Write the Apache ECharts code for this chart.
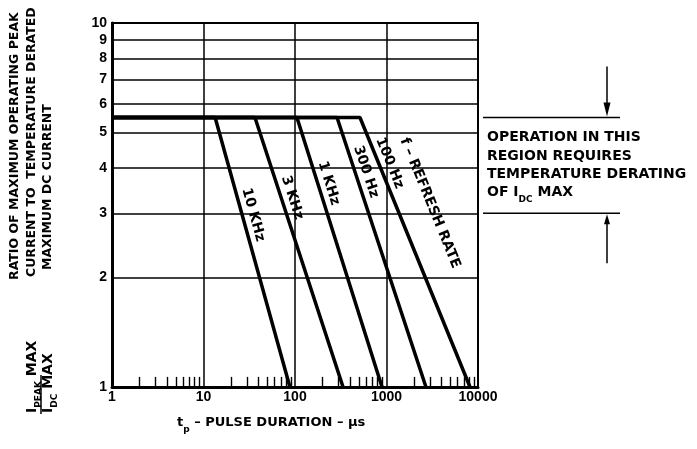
<!DOCTYPE html>
<html>
<head>
<meta charset="utf-8">
<script src="https://cdn.jsdelivr.net/npm/echarts@6/dist/echarts.min.js"></script>
<style>
body{margin:0;background:#fff;}
#chart{width:697px;height:449px;}
</style>
</head>
<body>
<div id="chart"></div>
<script>
var xLabels = [1, 10, 100, 1000, 10000];
var yLabels = [1, 2, 3, 4, 5, 6, 7, 8, 9, 10];
var minorX = [2, 3, 4, 5, 6, 7, 8, 9, 20, 30, 40, 50, 60, 70, 80, 90,
    200, 300, 400, 500, 600, 700, 800, 900, 2000, 3000, 4000, 5000, 6000, 7000, 8000, 9000];

var peakRatio = 5.5;
var rateNames = ['10 KHz', '3 KHz', '1 KHz', '300 Hz', '100 Hz'];
var kneePulse = [13.4, 36.5, 105, 288, 513];
var endPulse = [88, 335, 893, 2700, 8180];
var labelRatio = [2.97, 3.31, 3.63, 3.9, 4.12];
var refreshRatio = 3.2;

// region noted on the right: between these two ratios
var regionTop = 5.5;
var regionBottom = 3;

var numFont = 'Liberation Sans';
var txtFont = 'DejaVu Sans';

var myChart = echarts.init(document.getElementById('chart'));

var series = [];
for (var i = 0; i < rateNames.length; i++) {
    series.push({
        name: rateNames[i],
        type: 'line',
        symbol: 'none',
        silent: true,
        z: 5,
        lineStyle: { color: '#000', width: 3.5 },
        data: [[1, peakRatio], [kneePulse[i], peakRatio], [endPulse[i], 1]]
    });
}

// horizontal grid lines with their labels
series.push({
    type: 'line',
    symbol: 'none',
    silent: true,
    data: [],
    markLine: {
        symbol: ['none', 'none'],
        silent: true,
        animation: false,
        lineStyle: { color: '#000', width: 1.6, type: 'solid' },
        label: {
            position: 'start',
            distance: 5,
            formatter: function (p) { return p.value; },
            color: '#000',
            fontWeight: 'bold',
            fontSize: 14,
            fontFamily: numFont
        },
        data: yLabels.map(function (v) { return { yAxis: v }; })
    }
});

// little ticks on the bottom axis
series.push({
    type: 'line',
    symbol: 'none',
    silent: true,
    data: [],
    markLine: {
        symbol: ['none', 'none'],
        silent: true,
        animation: false,
        lineStyle: { color: '#000', width: 1.4, type: 'solid' },
        label: { show: false },
        data: minorX.map(function (v) { return [{ coord: [v, 1] }, { coord: [v, 1.066] }]; })
    }
});

var option = {
    animation: false,
    backgroundColor: '#fff',
    grid: { left: 112, right: 219, top: 23, bottom: 62, show: true, borderColor: '#000', borderWidth: 2 },
    xAxis: {
        type: 'log',
        logBase: 10,
        min: xLabels[0],
        max: xLabels[xLabels.length - 1],
        axisLine: { lineStyle: { color: '#000', width: 3 } },
        axisTick: { show: false },
        axisLabel: {
            color: '#000', fontWeight: 'bold', fontSize: 14, fontFamily: numFont, margin: 3,
            formatter: function (v) { return String(Math.round(v)); }
        },
        splitLine: { show: true, lineStyle: { color: '#000', width: 1.5 } }
    },
    yAxis: {
        type: 'log',
        logBase: 10,
        min: yLabels[0],
        max: yLabels[yLabels.length - 1],
        axisLine: { show: true, lineStyle: { color: '#000', width: 3 } },
        axisTick: { show: false },
        axisLabel: { show: false },
        splitLine: { show: false }
    },
    series: series
};

myChart.setOption(option);

function px(x, y) {
    return myChart.convertToPixel({ gridIndex: 0 }, [x, y]);
}

var g = [];
var subStyle = { fontSize: 9, lineHeight: 22, verticalAlign: 'bottom', fontWeight: 'bold', fontFamily: txtFont };

for (var i = 0; i < rateNames.length; i++) {
    var a = px(kneePulse[i], peakRatio);
    var b = px(endPulse[i], 1);
    var y = px(1, labelRatio[i])[1];
    var t = (y - a[1]) / (b[1] - a[1]);
    var ang = Math.atan2(b[1] - a[1], b[0] - a[0]);
    g.push({
        type: 'text',
        x: a[0] + t * (b[0] - a[0]) + 11,
        y: y,
        rotation: -ang,
        silent: true,
        style: { text: rateNames[i], fill: '#000', fontSize: 14, fontWeight: 'bold', fontFamily: txtFont, align: 'center', verticalAlign: 'middle' }
    });
    if (i == rateNames.length - 1) {
        var y2 = px(1, refreshRatio)[1];
        var t2 = (y2 - a[1]) / (b[1] - a[1]);
        g.push({
            type: 'text',
            x: a[0] + t2 * (b[0] - a[0]) + 35,
            y: y2,
            rotation: -ang,
            silent: true,
            style: { text: 'f \u2013 REFRESH RATE', fill: '#000', fontSize: 14, fontWeight: 'bold', fontFamily: txtFont, align: 'center', verticalAlign: 'middle' }
        });
    }
}

// right hand note
var right = px(10000, 1)[0];
var yt = px(1, regionTop)[1];
var yb = px(1, regionBottom)[1];
var ax = right + 129;
g.push({ type: 'line', silent: true, shape: { x1: right + 5, y1: yt, x2: right + 142, y2: yt }, style: { stroke: '#000', lineWidth: 1.5 } });
g.push({ type: 'line', silent: true, shape: { x1: right + 5, y1: yb, x2: right + 142, y2: yb }, style: { stroke: '#000', lineWidth: 1.5 } });
g.push({ type: 'line', silent: true, shape: { x1: ax, y1: yt - 51, x2: ax, y2: yt - 10 }, style: { stroke: '#000', lineWidth: 1.5 } });
g.push({ type: 'polygon', silent: true, shape: { points: [[ax - 3.5, yt - 15], [ax + 3.5, yt - 15], [ax, yt - 1]] }, style: { fill: '#000' } });
g.push({ type: 'line', silent: true, shape: { x1: ax, y1: yb + 8, x2: ax, y2: yb + 50 }, style: { stroke: '#000', lineWidth: 1.5 } });
g.push({ type: 'polygon', silent: true, shape: { points: [[ax - 3, yb + 11], [ax + 3, yb + 11], [ax, yb + 1]] }, style: { fill: '#000' } });

var note = ['OPERATION IN THIS', 'REGION REQUIRES', 'TEMPERATURE DERATING', 'OF I{s|DC} MAX'];
for (var k = 0; k < note.length; k++) {
    g.push({
        type: 'text',
        x: right + 9,
        y: yt + 20 + k * 18.4,
        silent: true,
        style: {
            text: note[k], fill: '#000', fontSize: 14, fontWeight: 'bold', fontFamily: txtFont,
            align: 'left', verticalAlign: 'middle',
            rich: { s: subStyle }
        }
    });
}

// y axis title
var ytitle = [['RATIO OF MAXIMUM OPERATING PEAK', 15, 280], ['CURRENT TO  TEMPERATURE DERATED', 32, 277], ['MAXIMUM DC CURRENT', 48, 270]];
for (var k = 0; k < ytitle.length; k++) {
    g.push({
        type: 'text',
        x: ytitle[k][1],
        y: ytitle[k][2],
        rotation: Math.PI / 2,
        silent: true,
        style: { text: ytitle[k][0], fill: '#000', fontSize: 12.5, fontWeight: 'bold', fontFamily: txtFont, align: 'left', verticalAlign: 'middle' }
    });
}
g.push({
    type: 'text', x: 32, y: 413, rotation: Math.PI / 2, silent: true,
    style: { text: 'I{s|PEAK} MAX', fill: '#000', fontSize: 14, fontWeight: 'bold', fontFamily: txtFont, align: 'left', verticalAlign: 'middle', rich: { s: subStyle } }
});
g.push({
    type: 'text', x: 48, y: 413, rotation: Math.PI / 2, silent: true,
    style: { text: 'I{s|DC} MAX', fill: '#000', fontSize: 14, fontWeight: 'bold', fontFamily: txtFont, align: 'left', verticalAlign: 'middle', rich: { s: subStyle } }
});
g.push({ type: 'line', silent: true, shape: { x1: 41, y1: 375, x2: 41, y2: 414 }, style: { stroke: '#000', lineWidth: 1.5 } });

// x axis title
g.push({
    type: 'text', x: 177, y: 423, silent: true,
    style: { text: 't{s|p} \u2013 PULSE DURATION \u2013 \u03bcs', fill: '#000', fontSize: 13, fontWeight: 'bold', fontFamily: txtFont, align: 'left', verticalAlign: 'middle', rich: { s: subStyle } }
});

myChart.setOption({ graphic: g });
</script>
</body>
</html>
